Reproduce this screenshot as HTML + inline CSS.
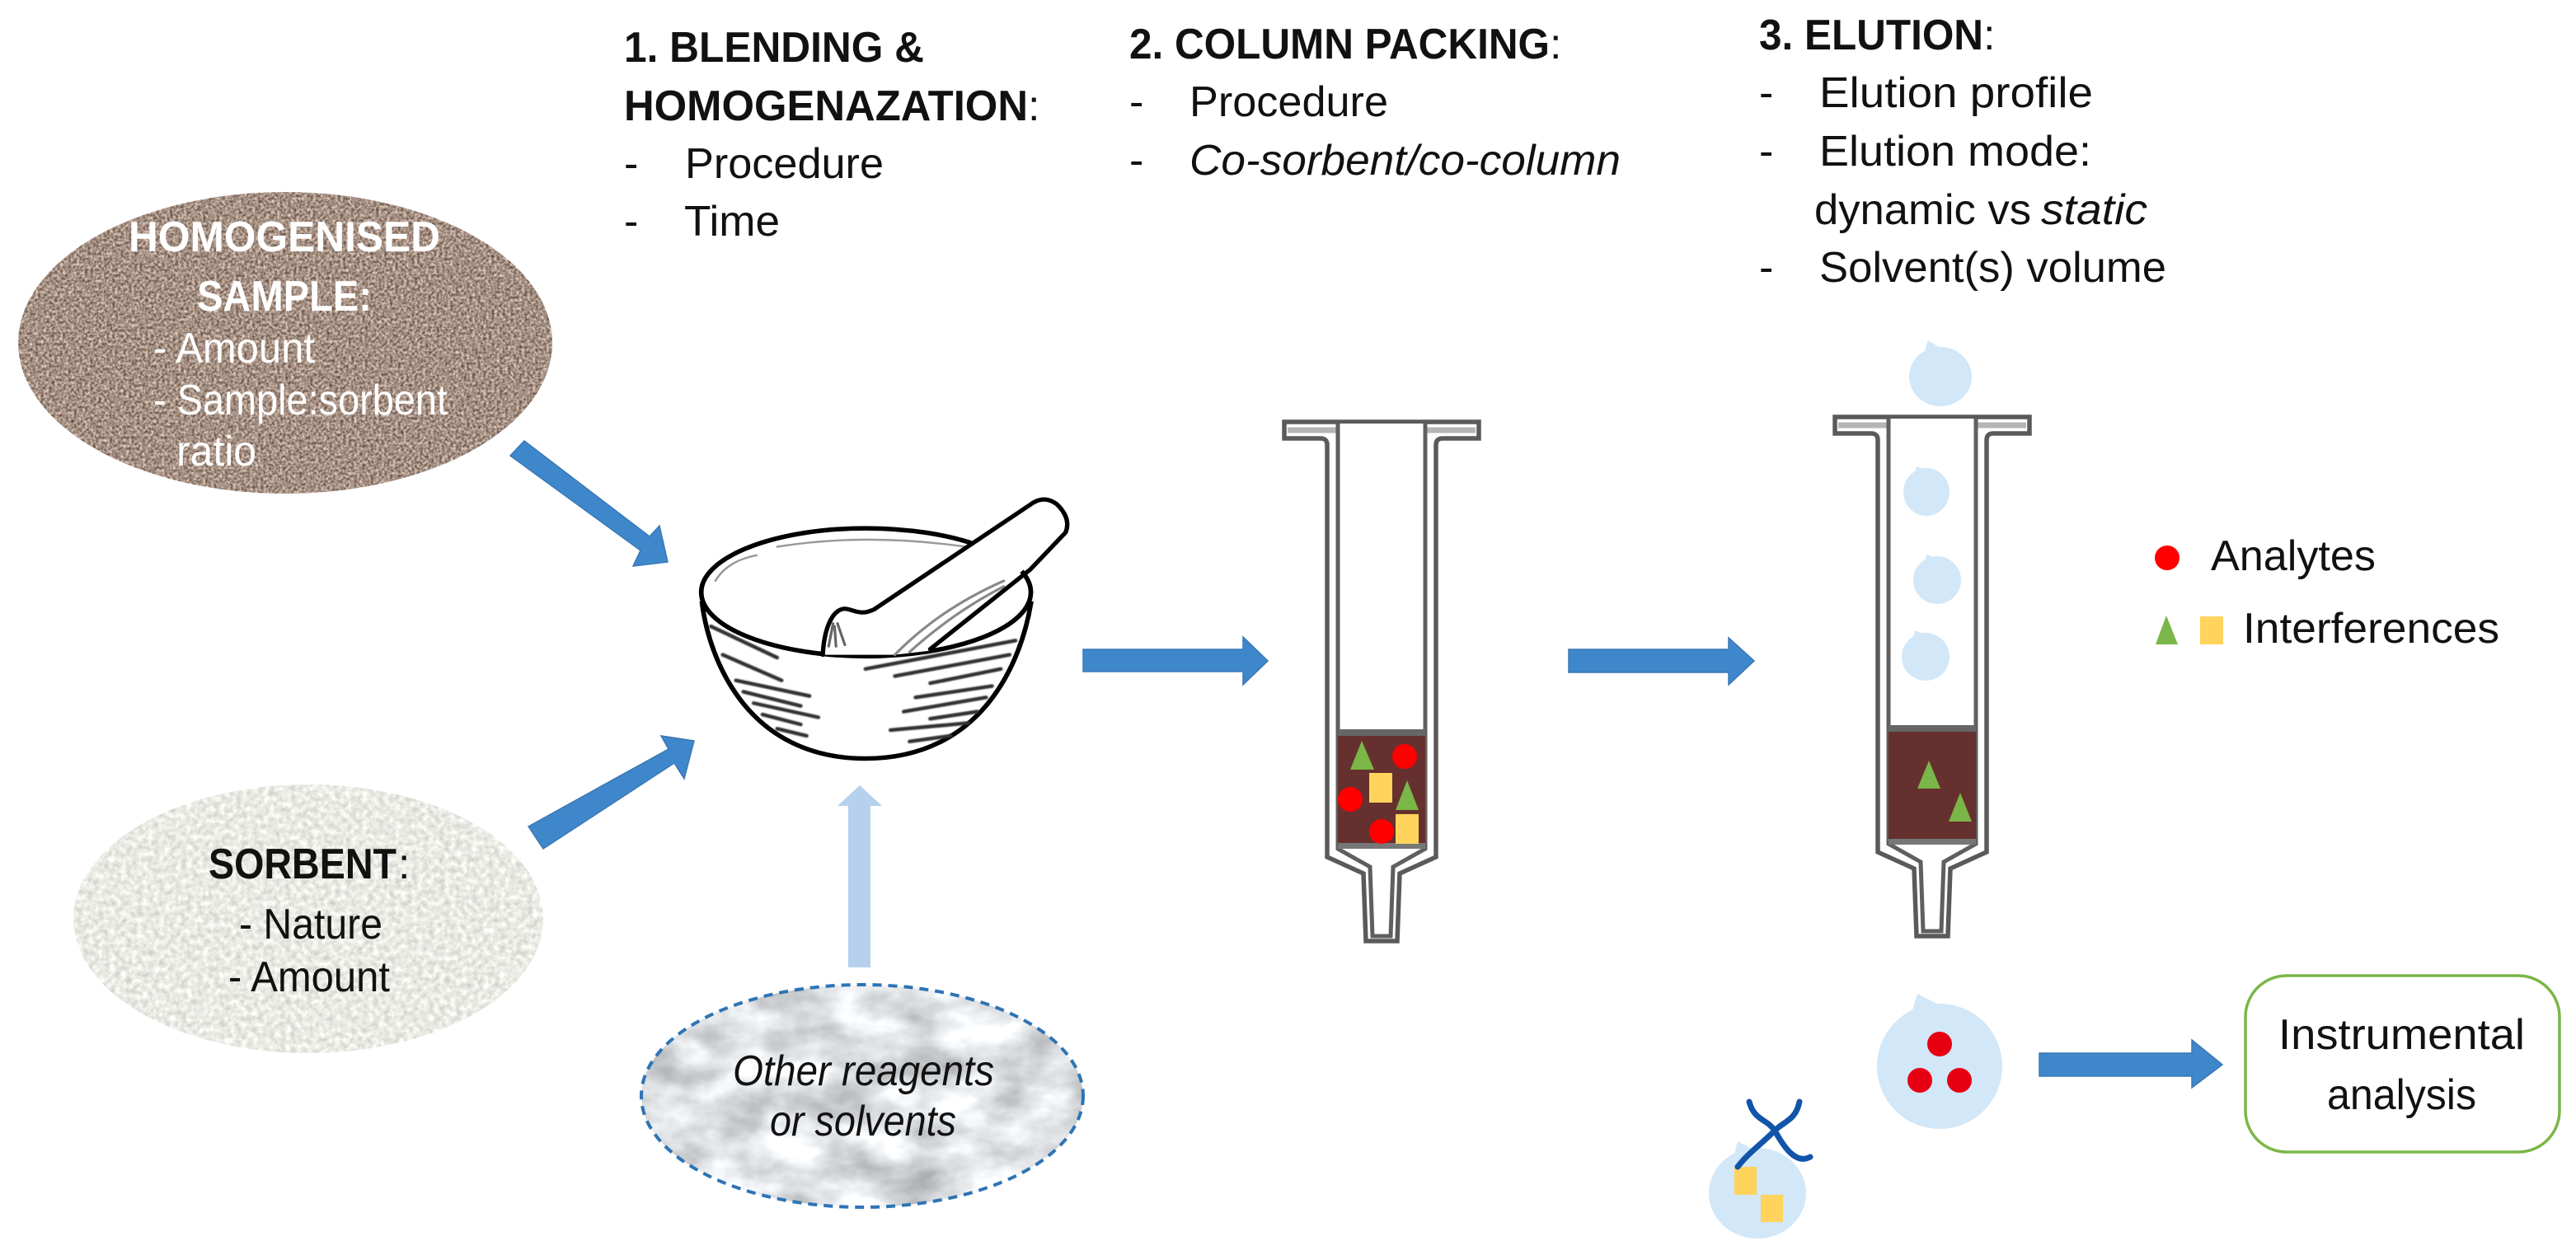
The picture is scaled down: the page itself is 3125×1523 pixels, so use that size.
<!DOCTYPE html>
<html><head><meta charset="utf-8"><style>
html,body{margin:0;padding:0;background:#fff;width:3125px;height:1523px;overflow:hidden}
svg{display:block}
text{font-family:"Liberation Sans",sans-serif;font-size:52px;fill:#111}
.b{font-weight:bold}.i{font-style:italic}.w{fill:#fff}
</style></head><body>
<svg width="3125" height="1523" viewBox="0 0 3125 1523" xmlns="http://www.w3.org/2000/svg">
<defs>
<filter id="sand" x="0" y="0" width="1" height="1" color-interpolation-filters="sRGB">
<feTurbulence type="fractalNoise" baseFrequency=".3" numOctaves="2" seed="4"/>
<feColorMatrix values=".85 0 0 0 .22  .85 0 0 0 .14  .85 0 0 0 .09  0 0 0 0 1"/>
<feComposite in2="SourceAlpha" operator="in"/>
</filter>
<filter id="sorb" x="0" y="0" width="1" height="1" color-interpolation-filters="sRGB">
<feTurbulence type="fractalNoise" baseFrequency=".15" numOctaves="2" seed="8"/>
<feColorMatrix values=".3 0 0 0 .77  .3 0 0 0 .77  .3 0 0 0 .75  0 0 0 0 1"/>
<feComposite in2="SourceAlpha" operator="in"/>
</filter>
<filter id="marble" x="0" y="0" width="1" height="1" color-interpolation-filters="sRGB">
<feTurbulence type="fractalNoise" baseFrequency=".014 .022" numOctaves="4" seed="11"/>
<feColorMatrix values=".55 0 0 0 .6  .55 0 0 0 .61  .55 0 0 0 .62  0 0 0 0 1"/>
<feComposite in2="SourceAlpha" operator="in"/>
</filter>
<filter id="soft" x="-5%" y="-5%" width="110%" height="110%"><feGaussianBlur stdDeviation="2.5"/></filter>
<g id="sy">
<path d="M-118,-10 H118 V10 H74 Q66,10 66,18 V518 L22,538 L19,620 H-19 L-22,538 L-66,518 V18 Q-66,10 -74,10 H-118 Z" fill="#fff" stroke="#5a5a5a" stroke-width="5.5"/>
<path d="M-114,0 H-53 M114,0 H53" stroke="#b5b5b5" stroke-width="7" fill="none"/>
<path d="M-53,-8 V508 L-14,530 L-11,614 H11 L14,530 L53,508 V-8" fill="#fff" stroke="#5f5f5f" stroke-width="5"/>
</g>
</defs>
<rect width="3125" height="1523" fill="#fff"/>

<!-- headings -->
<text class="b" x="757" y="75" textLength="364" lengthAdjust="spacingAndGlyphs">1. BLENDING &amp;</text>
<text class="b" x="757" y="146" textLength="490" lengthAdjust="spacingAndGlyphs">HOMOGENAZATION</text><text x="1247" y="146">:</text>
<text x="757" y="216">-</text><text x="831" y="216" textLength="241" lengthAdjust="spacingAndGlyphs">Procedure</text>
<text x="757" y="286">-</text><text x="830" y="286" textLength="116" lengthAdjust="spacingAndGlyphs">Time</text>

<text class="b" x="1370" y="71" textLength="510" lengthAdjust="spacingAndGlyphs">2. COLUMN PACKING</text><text x="1880" y="71">:</text>
<text x="1370" y="141">-</text><text x="1443" y="141" textLength="241" lengthAdjust="spacingAndGlyphs">Procedure</text>
<text x="1370" y="212">-</text><text class="i" x="1443" y="212" textLength="523" lengthAdjust="spacingAndGlyphs">Co-sorbent/co-column</text>

<text class="b" x="2134" y="60" textLength="272" lengthAdjust="spacingAndGlyphs">3. ELUTION</text><text x="2406" y="60">:</text>
<text x="2134" y="130">-</text><text x="2207" y="130" textLength="332" lengthAdjust="spacingAndGlyphs">Elution profile</text>
<text x="2134" y="201">-</text><text x="2207" y="201" textLength="330" lengthAdjust="spacingAndGlyphs">Elution mode:</text>
<text x="2201" y="272" textLength="263" lengthAdjust="spacingAndGlyphs">dynamic vs</text><text class="i" x="2476" y="272" textLength="129" lengthAdjust="spacingAndGlyphs">static</text>
<text x="2134" y="342">-</text><text x="2207" y="342" textLength="421" lengthAdjust="spacingAndGlyphs">Solvent(s) volume</text>

<!-- ellipses -->
<ellipse cx="346" cy="416" rx="324" ry="183" fill="#9b8a7c" filter="url(#sand)"/>
<ellipse cx="374" cy="1115" rx="285" ry="163" fill="#e4e4e0" filter="url(#sorb)"/>
<ellipse cx="1046" cy="1330" rx="268" ry="135" fill="#ddd" filter="url(#marble)"/>
<ellipse cx="1046" cy="1330" rx="268" ry="135" fill="none" stroke="#2e74b5" stroke-width="4" stroke-dasharray="11 8"/>

<text class="b w" x="156" y="305" textLength="378" lengthAdjust="spacingAndGlyphs">HOMOGENISED</text>
<text class="b w" x="239" y="377" textLength="212" lengthAdjust="spacingAndGlyphs">SAMPLE:</text>
<text class="w" x="186" y="440" textLength="196" lengthAdjust="spacingAndGlyphs">- Amount</text>
<text class="w" x="186" y="503" textLength="357" lengthAdjust="spacingAndGlyphs">- Sample:sorbent</text>
<text class="w" x="214" y="565" textLength="97" lengthAdjust="spacingAndGlyphs">ratio</text>

<text class="b" x="253" y="1066" textLength="228" lengthAdjust="spacingAndGlyphs">SORBENT</text><text x="483" y="1066">:</text>
<text x="290" y="1139" textLength="174" lengthAdjust="spacingAndGlyphs">- Nature</text>
<text x="277" y="1203" textLength="196" lengthAdjust="spacingAndGlyphs">- Amount</text>

<text class="i" x="889" y="1317" textLength="317" lengthAdjust="spacingAndGlyphs">Other reagents</text>
<text class="i" x="934" y="1378" textLength="226" lengthAdjust="spacingAndGlyphs">or solvents</text>

<!-- arrows -->
<g fill="#3f87cb" stroke="#3a78b5" stroke-width="1.5">
<polygon points="619,553 636,535 788,651 800,638 810,682 768,687 777,668"/>
<polygon points="641,1003 659,1030 818,926 830,945 842,899 802,893 811,909"/>
<polygon points="1314,788 1508,788 1508,773 1538,802 1508,831 1508,815 1314,815"/>
<polygon points="1903,788 2097,788 2097,774 2128,802 2097,831 2097,816 1903,816"/>
<polygon points="2474,1278 2659,1278 2659,1262 2696,1292 2659,1320 2659,1306 2474,1306"/>
</g>
<polygon points="1029,1174 1029,978 1016,978 1043,953 1070,978 1056,978 1056,1174" fill="#b5d1ee"/>

<!-- mortar -->
<g transform="translate(800,560) scale(.357,.345)" stroke-linecap="round">
<path d="M145,500 C170,700 300,1045 700,1045 C1100,1045 1230,700 1262,500 Z" fill="#fff" stroke="#000" stroke-width="16"/>
<ellipse cx="702" cy="460" rx="560" ry="225" fill="#fff" stroke="#000" stroke-width="16"/>
<path d="M190,420 Q230,350 330,330 M400,300 Q700,250 1040,300" fill="none" stroke="#999" stroke-width="7"/>
<path d="M555,680 C560,580 590,520 630,518 C660,520 680,545 730,520 L1270,145 Q1310,120 1350,150 Q1400,200 1380,250 L925,665 L800,680 Z" fill="#fff"/>
<path d="M555,680 C560,580 590,520 630,518 C660,520 680,545 730,520 L1270,145 Q1310,120 1350,150 Q1400,200 1380,250 L1260,380 L920,660" fill="none" stroke="#000" stroke-width="15"/>
<path d="M800,680 Q950,520 1170,420 M850,670 Q1000,530 1170,440" fill="none" stroke="#888" stroke-width="9"/>
<path d="M575,650 L590,570 M600,650 L595,580 M630,645 L605,570" stroke="#666" stroke-width="9" fill="none"/>
<g stroke="#333" stroke-width="13" fill="none" filter="url(#soft)">
<path d="M175,580 L400,690"/><path d="M215,680 L415,770"/><path d="M260,770 L510,825"/><path d="M285,810 L480,860"/><path d="M320,850 L540,900"/><path d="M350,890 L480,925"/><path d="M400,940 L500,965"/>
<path d="M1210,630 L700,730"/><path d="M1190,680 L800,755"/><path d="M1160,730 L920,780"/><path d="M1130,790 L870,830"/><path d="M1110,830 L830,880"/><path d="M1080,880 L920,905"/><path d="M1050,920 L785,945"/><path d="M990,965 L850,985"/>
</g>
</g>

<!-- syringes -->
<use href="#sy" x="1676" y="522"/>
<rect x="1623" y="885" width="106" height="9" fill="#666"/>
<rect x="1623" y="893" width="106" height="130" fill="#65302d"/>
<rect x="1623" y="1023" width="106" height="7" fill="#777"/>
<polygon points="1652,899 1638,934 1667,934" fill="#7ab648"/>
<circle cx="1704" cy="918" r="15" fill="#f00"/>
<rect x="1661" y="938" width="28" height="36" fill="#ffd35c"/>
<polygon points="1707,947 1693,983 1721,983" fill="#7ab648"/>
<circle cx="1638" cy="970" r="15" fill="#f00"/>
<circle cx="1676" cy="1009" r="15" fill="#f00"/>
<rect x="1693" y="988" width="28" height="36" fill="#ffd35c"/>

<use href="#sy" x="2344" y="516"/>
<rect x="2291" y="880" width="106" height="9" fill="#666"/>
<rect x="2291" y="888" width="106" height="130" fill="#65302d"/>
<rect x="2291" y="1018" width="106" height="7" fill="#777"/>
<polygon points="2340,923 2326,957 2354,957" fill="#7ab648"/>
<polygon points="2378,962 2364,997 2392,997" fill="#7ab648"/>

<!-- drops -->
<g fill="#d2e7f7">
<ellipse cx="2354" cy="457" rx="38" ry="36"/><polygon points="2339,413 2330,442 2358,425"/>
<ellipse cx="2337" cy="597" rx="28" ry="29"/><polygon points="2325,566 2320,585 2342,572"/>
<ellipse cx="2350" cy="704" rx="29" ry="29"/><polygon points="2337,673 2333,692 2355,679"/>
<ellipse cx="2336" cy="797" rx="29" ry="29"/><polygon points="2323,765 2319,785 2341,772"/>
<ellipse cx="2353" cy="1294" rx="76" ry="76"/><polygon points="2326,1206 2310,1260 2362,1224"/>
<ellipse cx="2132" cy="1448" rx="59" ry="55"/><polygon points="2108,1385 2098,1425 2138,1400"/>
</g>
<circle cx="2353" cy="1267" r="15" fill="#e60012"/>
<circle cx="2329" cy="1311" r="15" fill="#e60012"/>
<circle cx="2377" cy="1311" r="15" fill="#e60012"/>
<rect x="2104" y="1416" width="27" height="34" fill="#ffd35c"/>
<rect x="2136" y="1450" width="27" height="33" fill="#ffd35c"/>
<path d="M2122,1337 C2128,1360 2144,1358 2153,1372 C2163,1390 2178,1414 2196,1404 M2183,1337 C2178,1360 2165,1360 2153,1372 C2135,1390 2120,1400 2108,1416" fill="none" stroke="#1155aa" stroke-width="7" stroke-linecap="round"/>

<!-- box -->
<rect x="2724" y="1184" width="381" height="214" rx="50" fill="#fff" stroke="#7ab648" stroke-width="3.5"/>
<text x="2764" y="1273" textLength="299" lengthAdjust="spacingAndGlyphs">Instrumental</text>
<text x="2823" y="1346" textLength="181" lengthAdjust="spacingAndGlyphs">analysis</text>

<!-- legend -->
<circle cx="2629" cy="677" r="15" fill="#f00"/>
<text x="2682" y="692" textLength="200" lengthAdjust="spacingAndGlyphs">Analytes</text>
<polygon points="2628,747 2615,782 2642,782" fill="#7ab648"/>
<rect x="2669" y="748" width="28" height="34" fill="#ffd35c"/>
<text x="2721" y="780" textLength="311" lengthAdjust="spacingAndGlyphs">Interferences</text>
</svg>
</body></html>
